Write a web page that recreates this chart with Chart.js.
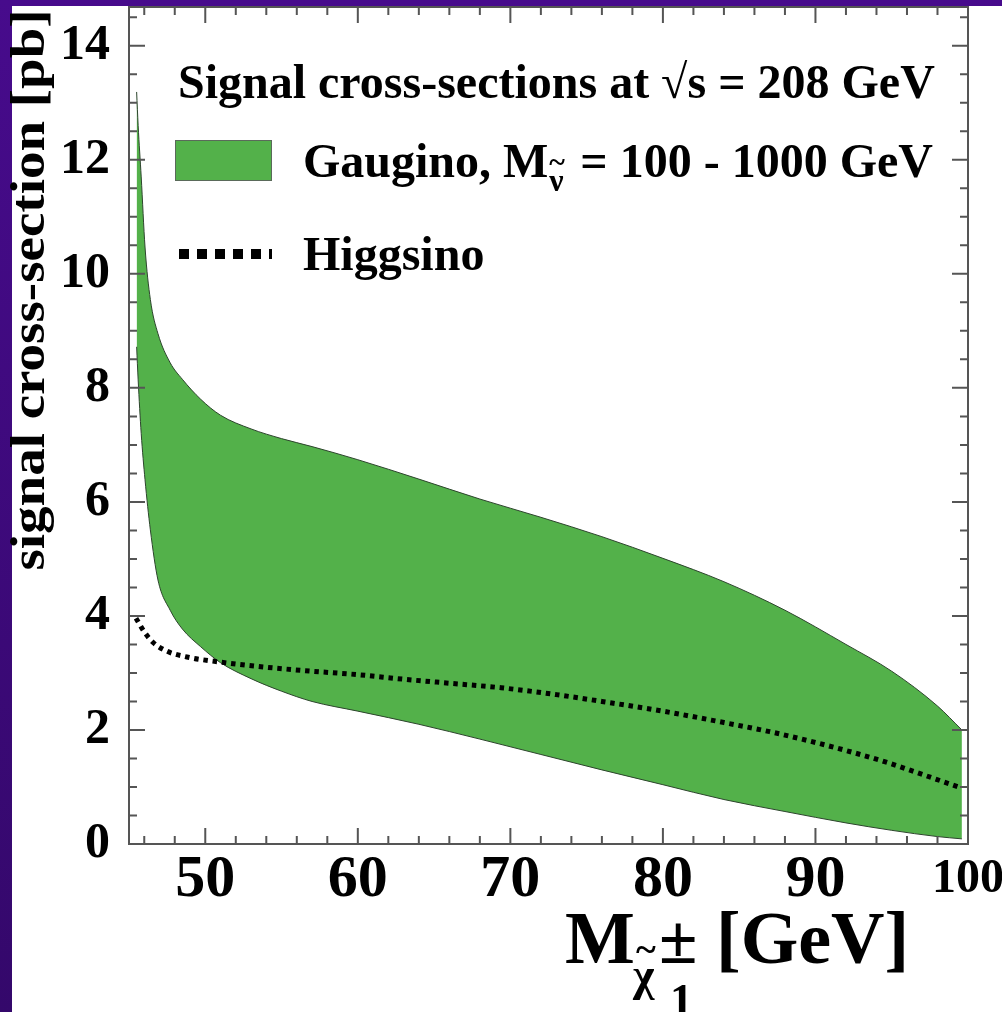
<!DOCTYPE html>
<html>
<head>
<meta charset="utf-8">
<script src="https://cdn.jsdelivr.net/npm/chart.js@4.4.1/dist/chart.umd.min.js"></script>
<style>
  html, body { margin: 0; padding: 0; background: #fff; }
  #wrap { width: 1002px; height: 1012px; }
</style>
</head>
<body>
<div id="wrap"><canvas id="xsec-chart" width="1002" height="1012"></canvas></div>
<script>
// Chargino mass points for the gaugino band [GeV]
const bandMass = [45.5, 45.6, 45.8, 46.05, 46.4, 46.9, 47.7, 48.5, 49.7, 51, 53, 55, 57, 60, 64, 68, 72, 76, 80, 84, 88, 92, 95, 98, 99.6];
// lower / upper edge of the gaugino band [pb]
const gauginoLow = [8.72, 8.14, 7.2, 6.39, 5.51, 4.63, 4.1, 3.77, 3.46, 3.18, 2.9, 2.68, 2.5, 2.33, 2.1, 1.84, 1.57, 1.3, 1.04, 0.78, 0.57, 0.37, 0.24, 0.13, 0.09];
const gauginoHigh = [13.19, 12.6, 11.7, 10.47, 9.55, 8.95, 8.44, 8.15, 7.8, 7.52, 7.28, 7.11, 6.97, 6.74, 6.4, 6.05, 5.73, 5.39, 5.01, 4.6, 4.1, 3.5, 3.03, 2.42, 2.0];

// Higgsino curve
const higgsinoMass = [45.46, 46, 46.6, 47.5, 48.8, 51, 54, 57, 60, 63, 66, 69.4, 73, 76, 80, 84, 87, 90, 92, 94.7, 97, 99.6];
const higgsinoXsec = [3.96, 3.72, 3.53, 3.38, 3.28, 3.19, 3.1, 3.03, 2.97, 2.89, 2.82, 2.74, 2.62, 2.5, 2.33, 2.13, 1.97, 1.78, 1.64, 1.43, 1.22, 0.98];

const xTickLabels = [50, 60, 70, 80, 90, 100];
const yTickLabels = [0, 2, 4, 6, 8, 10, 12, 14];

const GREEN = '#53b14a';
const SERIF = '"Liberation Serif", "Times New Roman", serif';

function toPoints(xs, ys) {
    return xs.map((x, i) => ({ x: x, y: ys[i] }));
}

// white page with the purple slide border on the left and top
const backgroundPlugin = {
    id: 'background',
    beforeDraw(chart) {
        const ctx = chart.ctx;
        ctx.save();
        ctx.fillStyle = '#ffffff';
        ctx.fillRect(0, 0, chart.width, chart.height);
        const grad = ctx.createLinearGradient(0, 0, 0, chart.height);
        grad.addColorStop(0, '#470b8c');
        grad.addColorStop(1, '#34086b');
        ctx.fillStyle = grad;
        ctx.fillRect(0, 0, 12, chart.height);
        ctx.fillRect(0, 0, chart.width, 6);
        ctx.restore();
    }
};

// ROOT style frame with ticks pointing inwards on all four sides
const framePlugin = {
    id: 'frame',
    afterDraw(chart) {
        const ctx = chart.ctx;
        const area = chart.chartArea;
        const xs = chart.scales.x;
        const ys = chart.scales.y;
        ctx.save();
        ctx.strokeStyle = '#555555';
        ctx.lineWidth = 2;
        ctx.strokeRect(area.left, area.top, area.right - area.left, area.bottom - area.top);

        ctx.beginPath();
        for (let v = 46; v <= 100; v += 2) {
            const len = v % 10 === 0 ? 16 : 8;
            const px = xs.getPixelForValue(v);
            ctx.moveTo(px, area.bottom);
            ctx.lineTo(px, area.bottom - len);
            ctx.moveTo(px, area.top);
            ctx.lineTo(px, area.top + len);
        }
        for (let v = 0.5; v <= 14.5; v += 0.5) {
            const len = v % 2 === 0 ? 16 : 8;
            const py = ys.getPixelForValue(v);
            ctx.moveTo(area.left, py);
            ctx.lineTo(area.left + len, py);
            ctx.moveTo(area.right, py);
            ctx.lineTo(area.right - len, py);
        }
        ctx.stroke();
        ctx.restore();
    }
};

// legend box and axis titles (with sub/superscripts)
const textPlugin = {
    id: 'texts',
    afterDraw(chart) {
        const ctx = chart.ctx;
        ctx.save();
        ctx.fillStyle = '#000000';
        ctx.textAlign = 'left';
        ctx.textBaseline = 'alphabetic';

        // legend header
        ctx.font = 'bold 48px ' + SERIF;
        ctx.fillText('Signal cross-sections at \u221As = 208 GeV', 178, 98);

        // gaugino entry
        ctx.fillStyle = GREEN;
        ctx.fillRect(175, 140, 97, 41);
        ctx.strokeStyle = '#5a6a5a';
        ctx.lineWidth = 1;
        ctx.strokeRect(175.5, 140.5, 96, 40);
        ctx.fillStyle = '#000000';
        ctx.font = 'bold 48px ' + SERIF;
        ctx.fillText('Gaugino, M', 303, 177);
        let x = 303 + ctx.measureText('Gaugino, M').width;
        ctx.font = 'bold 32px ' + SERIF;
        ctx.fillText('\u03BD', x + 1, 191);
        ctx.font = 'bold 30px ' + SERIF;
        ctx.fillText('~', x + 1, 172);
        x += 20;
        ctx.font = 'bold 48px ' + SERIF;
        ctx.fillText(' = 100 - 1000 GeV', x, 177);

        // higgsino entry
        ctx.strokeStyle = '#000000';
        ctx.lineWidth = 10;
        ctx.setLineDash([10, 8]);
        ctx.beginPath();
        ctx.moveTo(179, 254);
        ctx.lineTo(272, 254);
        ctx.stroke();
        ctx.setLineDash([]);
        ctx.fillText('Higgsino', 303, 270);

        // x axis title
        ctx.font = 'bold 74px ' + SERIF;
        ctx.fillText('M', 565, 963);
        ctx.font = 'bold 46px ' + SERIF;
        ctx.fillText('\u03C7', 633, 990);
        ctx.font = 'bold 38px ' + SERIF;
        ctx.fillText('~', 636, 962);
        ctx.font = 'bold 70px ' + SERIF;
        ctx.fillText('\u00B1', 659, 963);
        ctx.font = 'bold 46px ' + SERIF;
        ctx.fillText('1', 670, 1016);
        ctx.font = 'bold 74px ' + SERIF;
        ctx.fillText('[GeV]', 716, 963);

        // y axis title, rotated and narrowed like the original
        ctx.translate(31, 290);
        ctx.scale(0.9, 1);
        ctx.rotate(-Math.PI / 2);
        ctx.textAlign = 'center';
        ctx.textBaseline = 'middle';
        ctx.font = 'bold 55px ' + SERIF;
        ctx.fillText('signal cross-section [pb]', 0, 0);
        ctx.restore();
    }
};

const xsecChart = new Chart(document.getElementById('xsec-chart').getContext('2d'), {
    type: 'line',
    data: {
        datasets: [
            {
                label: 'Gaugino low',
                data: toPoints(bandMass, gauginoLow),
                borderColor: '#2d452d',
                borderWidth: 1,
                pointRadius: 0,
                fill: false,
                cubicInterpolationMode: 'monotone',
                order: 1
            },
            {
                label: 'Gaugino, M = 100 - 1000 GeV',
                data: toPoints(bandMass, gauginoHigh),
                borderColor: '#2d452d',
                borderWidth: 1,
                backgroundColor: GREEN,
                pointRadius: 0,
                fill: '-1',
                cubicInterpolationMode: 'monotone',
                order: 2
            },
            {
                label: 'Higgsino',
                data: toPoints(higgsinoMass, higgsinoXsec),
                borderColor: '#000000',
                borderWidth: 5,
                borderDash: [4.5, 4.8],
                borderCapStyle: 'butt',
                pointRadius: 0,
                fill: false,
                cubicInterpolationMode: 'monotone',
                order: 0
            }
        ]
    },
    options: {
        responsive: false,
        animation: false,
        layout: { padding: { left: 0, top: 7, right: 34, bottom: 0 } },
        plugins: {
            legend: { display: false },
            tooltip: { enabled: false }
        },
        scales: {
            x: {
                type: 'linear',
                min: 45,
                max: 100,
                grid: { display: false, drawTicks: false },
                border: { display: false },
                afterBuildTicks: (scale) => {
                    scale.ticks = xTickLabels.map((v) => ({ value: v }));
                },
                afterFit: (scale) => {
                    scale.height = 168;
                    scale.paddingLeft = 0;
                    scale.paddingRight = 0;
                },
                ticks: {
                    color: '#000000',
                    padding: 6,
                    maxRotation: 0,
                    autoSkip: false,
                    font: (context) => ({
                        family: SERIF,
                        weight: 'bold',
                        size: context.tick && context.tick.value === 100 ? 48 : 60,
                        lineHeight: '60px'
                    })
                }
            },
            y: {
                type: 'linear',
                min: 0,
                max: 14.68,
                grid: { display: false, drawTicks: false },
                border: { display: false },
                afterBuildTicks: (scale) => {
                    scale.ticks = yTickLabels.map((v) => ({ value: v }));
                },
                afterFit: (scale) => {
                    scale.width = 129;
                    scale.paddingTop = 0;
                    scale.paddingBottom = 0;
                },
                ticks: {
                    color: '#000000',
                    padding: 19,
                    autoSkip: false,
                    font: { family: SERIF, weight: 'bold', size: 50 }
                }
            }
        }
    },
    plugins: [backgroundPlugin, framePlugin, textPlugin]
});
</script>
</body>
</html>
